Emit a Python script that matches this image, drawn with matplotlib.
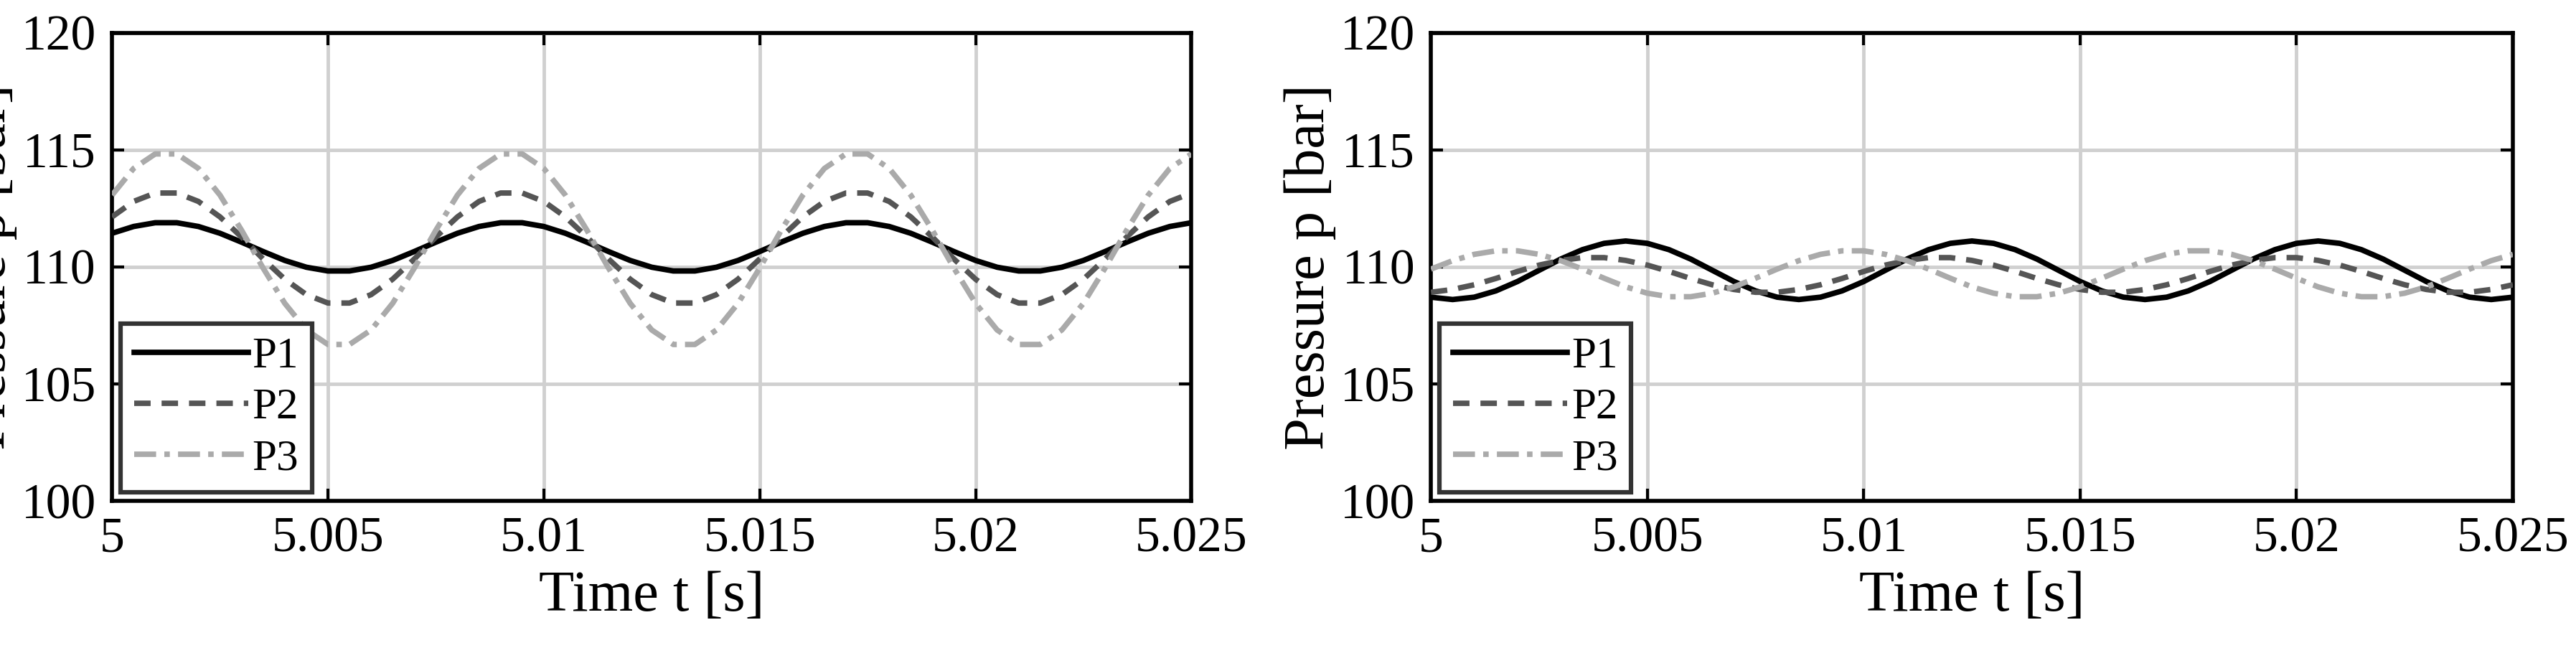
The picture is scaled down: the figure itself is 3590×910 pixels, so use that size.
import numpy as np
import matplotlib.pyplot as plt

plt.rcParams['font.family'] = ['Liberation Serif', 'DejaVu Serif']

# time samples (s), step 0.0005
t = np.round(np.arange(5.0, 5.02501, 0.0005), 4)

# left panel
left_p1 = [111.43, 111.72, 111.88, 111.88, 111.72, 111.43, 111.05, 110.65, 110.27, 109.98, 109.82, 109.82, 109.98, 110.27, 110.65, 111.05,
           111.43, 111.72, 111.88, 111.88, 111.72, 111.43, 111.05, 110.65, 110.27, 109.98, 109.82, 109.82, 109.98, 110.27, 110.65, 111.05,
           111.43, 111.72, 111.88, 111.88, 111.72, 111.43, 111.05, 110.65, 110.27, 109.98, 109.82, 109.82, 109.98, 110.27, 110.65, 111.05,
           111.43, 111.72, 111.88]
left_p2 = [112.13, 112.79, 113.15, 113.15, 112.79, 112.13, 111.27, 110.33, 109.47, 108.81, 108.45, 108.45, 108.81, 109.47, 110.33, 111.27,
           112.13, 112.79, 113.15, 113.15, 112.79, 112.13, 111.27, 110.33, 109.47, 108.81, 108.45, 108.45, 108.81, 109.47, 110.33, 111.27,
           112.13, 112.79, 113.15, 113.15, 112.79, 112.13, 111.27, 110.33, 109.47, 108.81, 108.45, 108.45, 108.81, 109.47, 110.33, 111.27,
           112.13, 112.79, 113.15]
left_p3 = [113.06, 114.20, 114.82, 114.82, 114.20, 113.06, 111.56, 109.94, 108.44, 107.30, 106.68, 106.68, 107.30, 108.44, 109.94, 111.56,
           113.06, 114.20, 114.82, 114.82, 114.20, 113.06, 111.56, 109.94, 108.44, 107.30, 106.68, 106.68, 107.30, 108.44, 109.94, 111.56,
           113.06, 114.20, 114.82, 114.82, 114.20, 113.06, 111.56, 109.94, 108.44, 107.30, 106.68, 106.68, 107.30, 108.44, 109.94, 111.56,
           113.06, 114.20, 114.82]

# right panel
right_p1 = [108.70, 108.60, 108.70, 108.97, 109.37, 109.85, 110.33, 110.73, 111.00, 111.10, 111.00, 110.73, 110.33, 109.85, 109.37, 108.97,
            108.70, 108.60, 108.70, 108.97, 109.37, 109.85, 110.33, 110.73, 111.00, 111.10, 111.00, 110.73, 110.33, 109.85, 109.37, 108.97,
            108.70, 108.60, 108.70, 108.97, 109.37, 109.85, 110.33, 110.73, 111.00, 111.10, 111.00, 110.73, 110.33, 109.85, 109.37, 108.97,
            108.70, 108.60, 108.70]
right_p2 = [108.91, 109.03, 109.23, 109.50, 109.80, 110.07, 110.27, 110.39, 110.39, 110.27, 110.07, 109.80, 109.50, 109.23, 109.03, 108.91,
            108.91, 109.03, 109.23, 109.50, 109.80, 110.07, 110.27, 110.39, 110.39, 110.27, 110.07, 109.80, 109.50, 109.23, 109.03, 108.91,
            108.91, 109.03, 109.23, 109.50, 109.80, 110.07, 110.27, 110.39, 110.39, 110.27, 110.07, 109.80, 109.50, 109.23, 109.03, 108.91,
            108.91, 109.03, 109.23]
right_p3 = [109.90, 110.26, 110.53, 110.68, 110.68, 110.53, 110.26, 109.90, 109.51, 109.14, 108.87, 108.72, 108.72, 108.87, 109.14, 109.51,
            109.90, 110.26, 110.53, 110.68, 110.68, 110.53, 110.26, 109.90, 109.51, 109.14, 108.87, 108.72, 108.72, 108.87, 109.14, 109.51,
            109.90, 110.26, 110.53, 110.68, 110.68, 110.53, 110.26, 109.90, 109.51, 109.14, 108.87, 108.72, 108.72, 108.87, 109.14, 109.51,
            109.90, 110.26, 110.53]

xticks = [5, 5.005, 5.01, 5.015, 5.02, 5.025]
xticklabels = ['5', '5.005', '5.01', '5.015', '5.02', '5.025']
yticks = [100, 105, 110, 115, 120]

fig = plt.figure(figsize=(35.9, 9.1), dpi=100)
axes = [fig.add_axes([0.0435, 0.233, 0.419, 0.717]),
        fig.add_axes([0.5555, 0.233, 0.42, 0.717])]

panels = [(left_p1, left_p2, left_p3), (right_p1, right_p2, right_p3)]
for ax, (p1, p2, p3) in zip(axes, panels):
    ax.plot(t, p1, color='black', lw=5.5, ls='-', label='P1', zorder=3)
    ax.plot(t, p2, color='#555555', lw=5.5, ls=(0, (3, 2)), label='P2', zorder=3)
    ax.plot(t, p3, color='#aaaaaa', lw=5.5, ls=(0, (4, 1.5, 1, 1.5)), label='P3', zorder=3)
    ax.set_xlim(5, 5.025)
    ax.set_ylim(100, 120)
    ax.set_xticks(xticks)
    ax.set_xticklabels(xticklabels)
    ax.set_yticks(yticks)
    ax.grid(True, color='#d0d0d0', lw=3.5)
    ax.tick_params(labelsize=50, direction='in', length=12, width=3, top=True, right=True, pad=16)
    for s in ax.spines.values():
        s.set_linewidth(4)
    ax.set_xlabel('Time t [s]', fontsize=58, labelpad=8)
    ax.set_ylabel('Pressure p [bar]', fontsize=58, labelpad=4)
    leg = ax.legend(loc='lower left', fontsize=44, handlelength=2.6, framealpha=1,
                    fancybox=False, edgecolor='#333333', borderpad=0.3, labelspacing=0.25,
                    handletextpad=0.1, borderaxespad=0.2)
    leg.get_frame().set_linewidth(4.5)

fig.savefig('out.png', dpi=100)
